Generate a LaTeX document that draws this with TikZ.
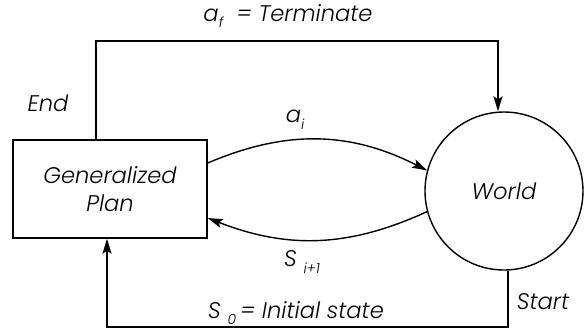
\documentclass[tikz,border=0pt]{standalone}
\usepackage{fontspec}
\setmainfont{Poppins Light}[ItalicFont={Poppins Light Italic}]
\usetikzlibrary{arrows.meta,positioning}
\newcommand\lowsub[1]{\raisebox{-0.55ex}{\scriptsize #1}}

\begin{document}
\begin{tikzpicture}[
  x=0.5pt,y=-0.5pt,
  >={Stealth[length=7.5pt,width=4.5pt,inset=1.5pt]},
  font=\fontsize{11.3}{14}\selectfont\itshape,
  box/.style={draw,line width=0.7pt,minimum width=97pt,minimum height=49pt,align=center},
  globe/.style={draw,line width=0.7pt,circle,minimum size=79pt,inner sep=0pt},
  sig/.style={->,line width=0.7pt},
  lab/.style={inner sep=1pt}]

  \useasboundingbox (0,0) rectangle (584,329);

  % ================= nodes =================
  \node[box] (plan) at (110,189) {Generalized\\Plan};
  \node[globe] (world) at (504,191) {World};

  % corner points of the outer loops
  \coordinate (endtop) at (96,41);
  \coordinate (worldtop) at (498,41);
  \coordinate (startbot) at (508,327);
  \coordinate (planbot) at (107,327);

  % ================= connectors =================
  \draw[sig] (plan.north -| endtop) -- (endtop) -- (worldtop) -- (worldtop |- world.north);
  \draw[sig] (world.south -| startbot) -- (startbot) -- (planbot) -- (planbot |- plan.south);
  \draw[sig] ([yshift=13pt]plan.east) to[bend left=25] (world.165);
  \draw[sig] (world.195) to[bend left=23] ([yshift=-14.5pt]plan.east);

  % ================= labels =================
  \node[lab] (term) at (288,16) {a\lowsub{f}\ \ = Terminate};
  \node[lab] (act) at (295,120) {a\lowsub{i}};
  \node[lab] (next) at (302,262) {S\ \lowsub{i+1}};
  \node[lab] (endl) at (48,103) {End};
  \node[lab] (startl) at (543,302) {Start};
  \node[lab] (init) at (296,313) {S\ \lowsub{0}\,= Initial state};
\end{tikzpicture}
\end{document}
